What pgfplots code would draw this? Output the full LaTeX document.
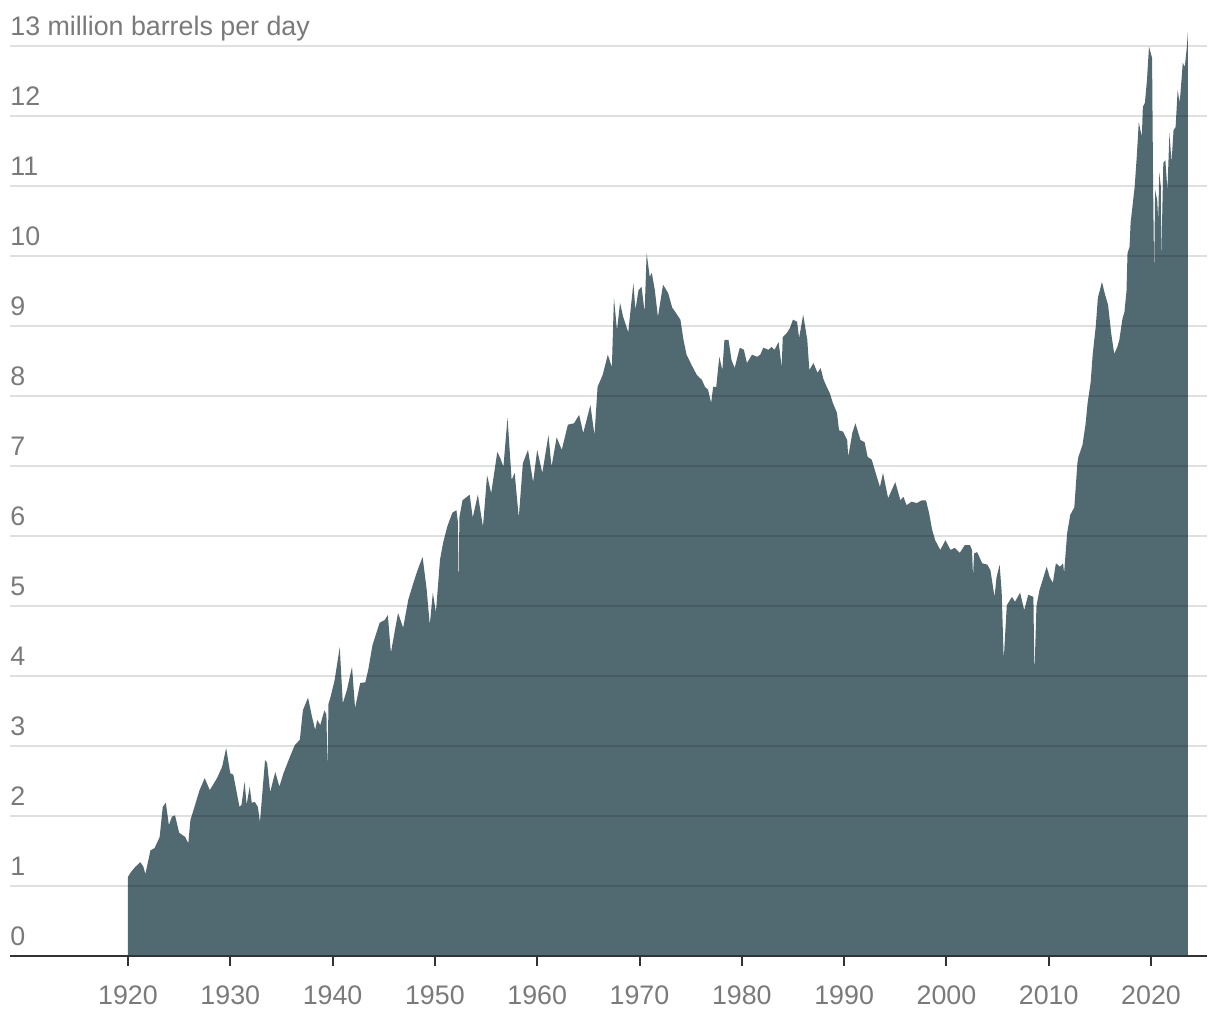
\documentclass[border=0pt]{standalone}
\usepackage{pgfplots}
\pgfplotsset{compat=1.18}
\usepackage{fontspec}
\setmainfont{Liberation Sans}
\definecolor{areac}{HTML}{516970}
\definecolor{labc}{HTML}{7A7A7A}
\definecolor{axc}{HTML}{333333}
\begin{document}
\begin{tikzpicture}
\begin{axis}[
  scale only axis,
  width=598.5pt, height=463.75pt,
  xmin=1908.47, xmax=2025.47,
  ymin=0, ymax=13.25,
  axis on top,
  axis x line=bottom,
  axis y line=left,
  x axis line style={-, draw=axc, line width=1pt},
  y axis line style={draw=none},
  xtick={1920,1930,1940,1950,1960,1970,1980,1990,2000,2010,2020},
  xticklabels={1920,1930,1940,1950,1960,1970,1980,1990,2000,2010,2020},
  ytick={0,1,2,3,4,5,6,7,8,9,10,11,12,13},
  yticklabels={0,1,2,3,4,5,6,7,8,9,10,11,12,{13 million barrels per day}},
  ymajorgrids,
  grid style={black, opacity=0.12, line width=1pt},
  xtick style={draw=axc, line width=1pt},
  ytick style={draw=none},
  tick align=outside,
  major tick length=5pt,
  xticklabel style={anchor=base, inner sep=0pt, yshift=-19.5pt, text=labc, font=\fontsize{13.4}{16}\selectfont},
  yticklabel style={anchor=base west, inner sep=0pt, xshift=5pt, yshift=5pt, text=labc, font=\fontsize{13.4}{16}\selectfont},
]
\addplot[draw=none, fill=areac] coordinates {
(1920.0,0) (1920.0,1.13) (1920.3,1.20) (1920.7,1.27) (1921.2,1.34) (1921.5,1.28) (1921.7,1.17)
(1922.2,1.51) (1922.6,1.54) (1923.1,1.70) (1923.4,2.13) (1923.7,2.19) (1924.0,1.87) (1924.3,1.99)
(1924.6,2.01) (1925.0,1.76) (1925.6,1.70) (1925.9,1.61) (1926.1,1.94) (1926.5,2.13) (1927.0,2.37)
(1927.5,2.54) (1928.0,2.37) (1928.7,2.54) (1929.2,2.70) (1929.6,2.97) (1930.0,2.61) (1930.3,2.59)
(1930.9,2.13) (1931.1,2.16) (1931.4,2.49) (1931.6,2.16) (1931.9,2.42) (1932.1,2.19) (1932.4,2.20)
(1932.7,2.13) (1932.9,1.91) (1933.4,2.80) (1933.6,2.76) (1933.9,2.34) (1934.4,2.63) (1934.8,2.42)
(1935.2,2.61) (1935.6,2.76) (1935.9,2.87) (1936.3,3.01) (1936.8,3.09) (1937.1,3.51) (1937.6,3.69)
(1938.0,3.41) (1938.3,3.23) (1938.5,3.37) (1938.8,3.30) (1939.2,3.51) (1939.4,3.45) (1939.5,2.62)
(1939.6,3.60) (1939.8,3.70) (1940.2,3.94) (1940.7,4.41) (1941.0,3.61) (1941.4,3.80) (1941.9,4.13)
(1942.2,3.54) (1942.7,3.90) (1943.2,3.91) (1943.5,4.10) (1943.9,4.44) (1944.6,4.76) (1945.1,4.80)
(1945.4,4.87) (1945.7,4.33) (1946.1,4.66) (1946.4,4.90) (1946.9,4.69) (1947.4,5.09) (1947.9,5.33)
(1948.3,5.51) (1948.8,5.70) (1949.2,5.23) (1949.5,4.73) (1949.8,5.19) (1950.1,4.91) (1950.5,5.66)
(1950.8,5.90) (1951.2,6.13) (1951.7,6.33) (1952.1,6.37) (1952.25,6.20) (1952.3,5.13) (1952.4,6.27)
(1952.7,6.51) (1953.4,6.59) (1953.7,6.26) (1954.2,6.59) (1954.7,6.13) (1955.1,6.87) (1955.5,6.61)
(1956.1,7.20) (1956.4,7.11) (1956.7,6.99) (1957.1,7.69) (1957.5,6.80) (1957.8,6.90) (1958.2,6.26)
(1958.6,7.04) (1959.1,7.23) (1959.6,6.77) (1960.0,7.23) (1960.5,6.90) (1961.1,7.44) (1961.4,6.99)
(1961.9,7.41) (1962.4,7.23) (1963.0,7.59) (1963.6,7.61) (1964.1,7.73) (1964.5,7.47) (1965.2,7.87)
(1965.6,7.44) (1965.9,8.13) (1966.4,8.30) (1966.9,8.59) (1967.3,8.41) (1967.5,9.40) (1967.8,8.94)
(1968.1,9.33) (1968.4,9.13) (1968.9,8.91) (1969.4,9.61) (1969.6,9.23) (1969.9,9.51) (1970.2,9.56)
(1970.5,9.20) (1970.7,10.04) (1971.0,9.70) (1971.2,9.76) (1971.5,9.51) (1971.8,9.13) (1972.3,9.59)
(1972.8,9.47) (1973.2,9.26) (1973.5,9.20) (1974.0,9.09) (1974.3,8.80) (1974.6,8.59) (1975.1,8.44)
(1975.6,8.30) (1976.1,8.23) (1976.4,8.13) (1976.7,8.09) (1977.0,7.90) (1977.2,8.13) (1977.5,8.13)
(1977.8,8.56) (1978.1,8.37) (1978.3,8.80) (1978.7,8.80) (1979.0,8.51) (1979.3,8.40) (1979.8,8.69)
(1980.2,8.66) (1980.5,8.47) (1981.0,8.59) (1981.5,8.56) (1981.8,8.59) (1982.1,8.69) (1982.6,8.66)
(1982.9,8.70) (1983.2,8.66) (1983.6,8.77) (1983.9,8.41) (1984.0,8.84) (1984.4,8.90) (1984.7,8.97)
(1985.0,9.09) (1985.4,9.06) (1985.6,8.83) (1986.0,9.16) (1986.4,8.80) (1986.6,8.37) (1987.0,8.47)
(1987.4,8.33) (1987.7,8.40) (1988.0,8.23) (1988.3,8.13) (1988.6,8.04) (1988.9,7.90) (1989.3,7.76)
(1989.5,7.51) (1989.9,7.49) (1990.3,7.37) (1990.4,7.13) (1990.8,7.47) (1991.1,7.61) (1991.6,7.37)
(1992.0,7.34) (1992.3,7.13) (1992.7,7.09) (1993.0,6.94) (1993.5,6.70) (1993.8,6.90) (1994.3,6.54)
(1995.0,6.77) (1995.5,6.51) (1995.8,6.56) (1996.1,6.44) (1996.6,6.49) (1997.1,6.47) (1997.6,6.51)
(1998.0,6.51) (1998.3,6.33) (1998.6,6.09) (1998.9,5.94) (1999.4,5.80) (1999.9,5.94) (2000.4,5.80)
(2000.8,5.83) (2001.3,5.76) (2001.8,5.87) (2002.3,5.87) (2002.5,5.80) (2002.6,5.41) (2002.7,5.75)
(2003.0,5.77) (2003.5,5.61) (2004.0,5.59) (2004.3,5.51) (2004.7,5.13) (2004.9,5.41) (2005.2,5.59)
(2005.4,5.20) (2005.6,4.23) (2005.9,5.01) (2006.4,5.13) (2006.7,5.06) (2007.2,5.19) (2007.6,4.94)
(2008.0,5.16) (2008.5,5.13) (2008.6,4.01) (2008.8,5.00) (2009.1,5.23) (2009.4,5.37) (2009.8,5.56)
(2010.1,5.41) (2010.4,5.33) (2010.7,5.61) (2011.1,5.56) (2011.4,5.61) (2011.5,5.47) (2011.8,6.04)
(2012.1,6.30) (2012.5,6.41) (2012.8,7.04) (2012.9,7.13) (2013.3,7.30) (2013.6,7.60) (2013.8,7.90)
(2014.1,8.20) (2014.3,8.60) (2014.6,9.00) (2014.8,9.40) (2015.2,9.63) (2015.5,9.45) (2015.8,9.30)
(2016.1,8.90) (2016.4,8.60) (2016.7,8.70) (2016.9,8.80) (2017.2,9.10) (2017.4,9.20) (2017.6,9.50)
(2017.7,10.04) (2017.9,10.13) (2018.0,10.47) (2018.4,10.99) (2018.6,11.41) (2018.8,11.91) (2019.1,11.70)
(2019.2,12.13) (2019.4,12.19) (2019.6,12.51) (2019.8,12.99) (2020.1,12.83) (2020.2,11.00) (2020.3,9.76)
(2020.4,10.94) (2020.6,10.80) (2020.7,10.51) (2020.8,11.19) (2020.95,11.00) (2021.0,9.94) (2021.2,11.33)
(2021.4,11.37) (2021.6,10.94) (2021.8,11.76) (2022.0,11.33) (2022.2,11.80) (2022.4,11.84) (2022.6,12.37)
(2022.8,12.19) (2023.0,12.56) (2023.1,12.76) (2023.3,12.70) (2023.5,12.99) (2023.6,13.20) (2023.6,0)
} -- cycle;
\coordinate (sw) at (rel axis cs:0,0);
\coordinate (ne) at (rel axis cs:1,1);
\end{axis}
\path ([xshift=-5pt,yshift=-32pt]sw) rectangle ([xshift=6.5pt,yshift=14.25pt]ne);
\end{tikzpicture}
\end{document}
